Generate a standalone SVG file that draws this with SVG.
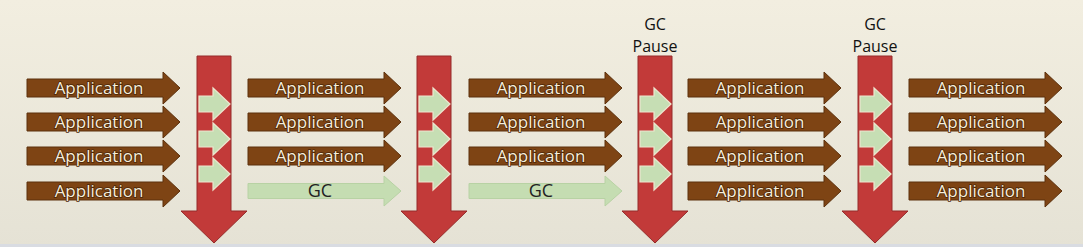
<svg xmlns="http://www.w3.org/2000/svg" xmlns:xlink="http://www.w3.org/1999/xlink" width="1083" height="247" viewBox="0 0 1083 247">
  <defs>
    <linearGradient id="bg" x1="0" y1="0" x2="0" y2="1">
      <stop offset="0" stop-color="#F2EEE0"/>
      <stop offset="1" stop-color="#E5E2D5"/>
    </linearGradient>
    <path id="appArrow" d="M0,-9 H136 V-16 L153,0 L136,16 V9 H0 Z"/>
    <path id="gcArrow" d="M0,-7.5 H136 V-15 L153,0 L136,15 V7.5 H0 Z"/>
    <path id="pauseArrow" d="M-17,0 H17 V155 H33 L0,187 L-33,155 H-17 Z"/>
    <path id="smallArrow" d="M-15,-8 H-1 V-16 L16,0 L-1,16 V8 H-15 Z"/>
  </defs>
  <style>
    .app { fill: #7E4414; stroke: #5C300C; stroke-width: 1; }
    .gc { fill: #C5DDB2; stroke: #B8D2A4; stroke-width: 1; }
    .pause { fill: #C23A39; stroke: #952A2A; stroke-width: 1; }
    .small { fill: #C6DEB4; stroke: #EDE6CF; stroke-width: 1.2; }
    .lbl { font-family: "Open Sans", "Noto Sans", sans-serif; font-size: 17px; text-anchor: middle; }
    .applbl { fill: #F7EEDA; stroke: #4A2508; stroke-width: 1.6; paint-order: stroke; }
    .gclbl { fill: #222; font-size: 18px; }
    .plbl { fill: #111; font-size: 16px; }
  </style>
  <rect width="1083" height="247" fill="url(#bg)"/>
  <rect x="0" y="244" width="1083" height="3" fill="#D9DCE2"/>

  <g id="phase1">
    <g id="p1-app1"><use href="#appArrow" x="27" y="88" class="app"/><text class="lbl applbl" x="99" y="94">Application</text></g>
    <g id="p1-app2"><use href="#appArrow" x="27" y="122" class="app"/><text class="lbl applbl" x="99" y="128">Application</text></g>
    <g id="p1-app3"><use href="#appArrow" x="27" y="156" class="app"/><text class="lbl applbl" x="99" y="162">Application</text></g>
    <g id="p1-app4"><use href="#appArrow" x="27" y="191" class="app"/><text class="lbl applbl" x="99" y="197">Application</text></g>
  </g>

  <g id="phase2">
    <g id="p2-app1"><use href="#appArrow" x="248" y="88" class="app"/><text class="lbl applbl" x="320" y="94">Application</text></g>
    <g id="p2-app2"><use href="#appArrow" x="248" y="122" class="app"/><text class="lbl applbl" x="320" y="128">Application</text></g>
    <g id="p2-app3"><use href="#appArrow" x="248" y="156" class="app"/><text class="lbl applbl" x="320" y="162">Application</text></g>
    <g id="p2-gc"><use href="#gcArrow" x="248" y="191" class="gc"/><text class="lbl gclbl" x="320" y="197">GC</text></g>
  </g>

  <g id="phase3">
    <g id="p3-app1"><use href="#appArrow" x="469" y="88" class="app"/><text class="lbl applbl" x="541" y="94">Application</text></g>
    <g id="p3-app2"><use href="#appArrow" x="469" y="122" class="app"/><text class="lbl applbl" x="541" y="128">Application</text></g>
    <g id="p3-app3"><use href="#appArrow" x="469" y="156" class="app"/><text class="lbl applbl" x="541" y="162">Application</text></g>
    <g id="p3-gc"><use href="#gcArrow" x="469" y="191" class="gc"/><text class="lbl gclbl" x="541" y="197">GC</text></g>
  </g>

  <g id="phase4">
    <g id="p4-app1"><use href="#appArrow" x="688" y="88" class="app"/><text class="lbl applbl" x="760" y="94">Application</text></g>
    <g id="p4-app2"><use href="#appArrow" x="688" y="122" class="app"/><text class="lbl applbl" x="760" y="128">Application</text></g>
    <g id="p4-app3"><use href="#appArrow" x="688" y="156" class="app"/><text class="lbl applbl" x="760" y="162">Application</text></g>
    <g id="p4-app4"><use href="#appArrow" x="688" y="191" class="app"/><text class="lbl applbl" x="760" y="197">Application</text></g>
  </g>

  <g id="phase5">
    <g id="p5-app1"><use href="#appArrow" x="909" y="88" class="app"/><text class="lbl applbl" x="981" y="94">Application</text></g>
    <g id="p5-app2"><use href="#appArrow" x="909" y="122" class="app"/><text class="lbl applbl" x="981" y="128">Application</text></g>
    <g id="p5-app3"><use href="#appArrow" x="909" y="156" class="app"/><text class="lbl applbl" x="981" y="162">Application</text></g>
    <g id="p5-app4"><use href="#appArrow" x="909" y="191" class="app"/><text class="lbl applbl" x="981" y="197">Application</text></g>
  </g>

  <g id="pause1">
    <use href="#pauseArrow" x="214" y="56" class="pause"/>
    <use href="#smallArrow" x="214" y="104" class="small"/>
    <use href="#smallArrow" x="214" y="139" class="small"/>
    <use href="#smallArrow" x="214" y="174" class="small"/>
  </g>
  <g id="pause2">
    <use href="#pauseArrow" x="434" y="56" class="pause"/>
    <use href="#smallArrow" x="434" y="104" class="small"/>
    <use href="#smallArrow" x="434" y="139" class="small"/>
    <use href="#smallArrow" x="434" y="174" class="small"/>
  </g>
  <g id="pause3">
    <text class="lbl plbl" x="655" y="30">GC<tspan x="655" dy="22">Pause</tspan></text>
    <use href="#pauseArrow" x="655" y="56" class="pause"/>
    <use href="#smallArrow" x="655" y="104" class="small"/>
    <use href="#smallArrow" x="655" y="139" class="small"/>
    <use href="#smallArrow" x="655" y="174" class="small"/>
  </g>
  <g id="pause4">
    <text class="lbl plbl" x="875" y="30">GC<tspan x="875" dy="22">Pause</tspan></text>
    <use href="#pauseArrow" x="875" y="56" class="pause"/>
    <use href="#smallArrow" x="875" y="104" class="small"/>
    <use href="#smallArrow" x="875" y="139" class="small"/>
    <use href="#smallArrow" x="875" y="174" class="small"/>
  </g>
  <g id="connectors"></g>
</svg>
